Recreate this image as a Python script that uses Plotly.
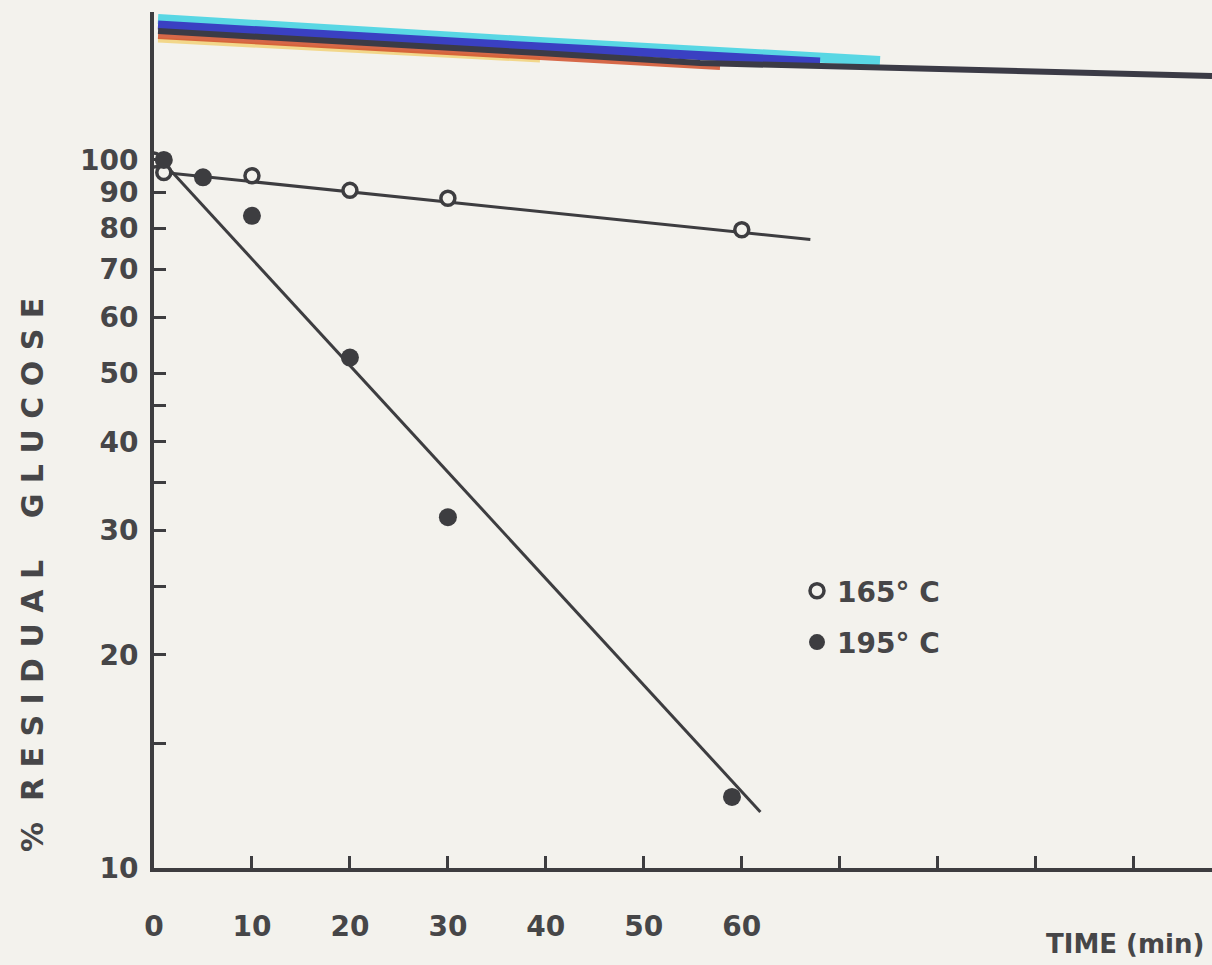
import plotly.graph_objects as go

# ---- data ----
time_165 = [0, 1, 10, 20, 30, 60]
glucose_165 = [100, 96, 95, 90.6, 88.3, 79.7]
time_195 = [1, 5, 10, 20, 30, 59]
glucose_195 = [100, 94.5, 83.4, 52.6, 31.3, 12.6]
fit_165_time = [1, 67]
fit_165_glucose = [96, 77.2]
fit_195_time = [1, 61.9]
fit_195_glucose = [99, 12.0]

x_tickvals = [0, 10, 20, 30, 40, 50, 60, 70, 80, 90, 100]
x_ticktext = ["0", "10", "20", "30", "40", "50", "60", "", "", "", ""]
y_tickvals = [10, 15, 20, 25, 30, 35, 40, 45, 50, 60, 70, 80, 90, 100]
y_ticktext = ["10", "", "20", "", "30", "", "40", "", "50", "60", "70", "80", "90", "100"]
series_names = ["165° C", "195° C"]

# ---- styling ----
W, H = 1212, 965
ML, MR, MT, MB = 154, 0, 12, 97
INK = "#3d3d40"
TXT = "#464648"
PAPER = "#f3f2ed"
FONT = "DejaVu Sans"

def px(x):
    return (x - ML) / (W - ML - MR)

def py(y):
    return (H - MB - y) / (H - MT - MB)

fig = go.Figure()

fig.add_trace(go.Scatter(x=fit_165_time, y=fit_165_glucose, mode="lines",
                         line=dict(color=INK, width=3), showlegend=False, hoverinfo="skip"))
fig.add_trace(go.Scatter(x=fit_195_time, y=fit_195_glucose, mode="lines",
                         line=dict(color=INK, width=3), showlegend=False, hoverinfo="skip"))
fig.add_trace(go.Scatter(x=time_165, y=glucose_165, mode="markers", name=series_names[0],
                         legendgroup="a",
                         marker=dict(symbol="circle", size=14, color=PAPER,
                                     line=dict(color=INK, width=3.5))))
fig.add_trace(go.Scatter(x=time_195, y=glucose_195, mode="markers", name=series_names[1],
                         legendgroup="b",
                         marker=dict(symbol="circle", size=18, color=INK,
                                     line=dict(color=INK, width=0))))

# scan artifact along the top edge of the sheet
band = [
    ("#3fd3e3", 10, [(158, 19), (540, 42), (880, 61)], 0.85),
    ("#f2c64a", 5, [(158, 40), (540, 60)], 0.6),
    ("#d2502c", 6, [(158, 36), (540, 57), (720, 67)], 0.85),
    ("#3a40c2", 9, [(158, 25), (540, 47), (820, 62)], 1.0),
    ("#3b3b46", 6, [(158, 31), (540, 53), (700, 63), (1212, 76)], 1.0),
]
shapes = []
for col, w, pts, op in band:
    path = "M " + " L ".join(f"{px(a):.4f},{py(b):.4f}" for a, b in pts)
    shapes.append(dict(type="path", xref="paper", yref="paper", path=path,
                       line=dict(color=col, width=w), opacity=op, layer="above"))

fig.update_layout(
    width=W, height=H,
    margin=dict(l=ML, r=MR, t=MT, b=MB),
    paper_bgcolor=PAPER, plot_bgcolor=PAPER,
    font=dict(family=FONT, color=TXT, size=24),
    shapes=shapes,
    showlegend=True,
    legend=dict(x=px(797), y=py(566), xanchor="left", yanchor="top",
                bgcolor="rgba(0,0,0,0)", font=dict(size=28, color=TXT, weight="bold"),
                tracegroupgap=12, itemwidth=30),
    xaxis=dict(range=[0, 108], tickvals=x_tickvals, ticktext=x_ticktext,
               ticks="inside", ticklen=12, tickwidth=3, tickcolor=INK,
               showline=True, linecolor=INK, linewidth=4, showgrid=False, zeroline=False,
               tickfont=dict(size=28, color=TXT, weight="bold"), ticklabelstandoff=30),
    yaxis=dict(type="log", range=[1, 2.209], tickvals=y_tickvals, ticktext=y_ticktext,
               ticks="inside", ticklen=12, tickwidth=3, tickcolor=INK,
               showline=True, linecolor=INK, linewidth=4, showgrid=False, zeroline=False,
               tickfont=dict(size=28, color=TXT, weight="bold"), ticklabelstandoff=6),
    annotations=[
        dict(text="%\u00a0\u00a0R\u00a0E\u00a0S\u00a0I\u00a0D\u00a0U\u00a0A\u00a0L\u00a0\u00a0\u00a0\u00a0G\u00a0L\u00a0U\u00a0C\u00a0O\u00a0S\u00a0E",
             textangle=-90, xref="paper", yref="paper", x=px(32), y=py(575),
             xanchor="center", yanchor="middle", showarrow=False,
             font=dict(size=30, color=TXT, weight="bold")),
        dict(text="TIME\u00a0(min)", xref="paper", yref="paper", x=px(1206), y=py(944),
             xanchor="right", yanchor="middle", showarrow=False,
             font=dict(size=26, color=TXT, weight="bold")),
    ],
)

fig.write_html("out.html", config={"displayModeBar": False},
               post_script="document.body.style.margin='0';document.body.style.overflow='hidden';")
